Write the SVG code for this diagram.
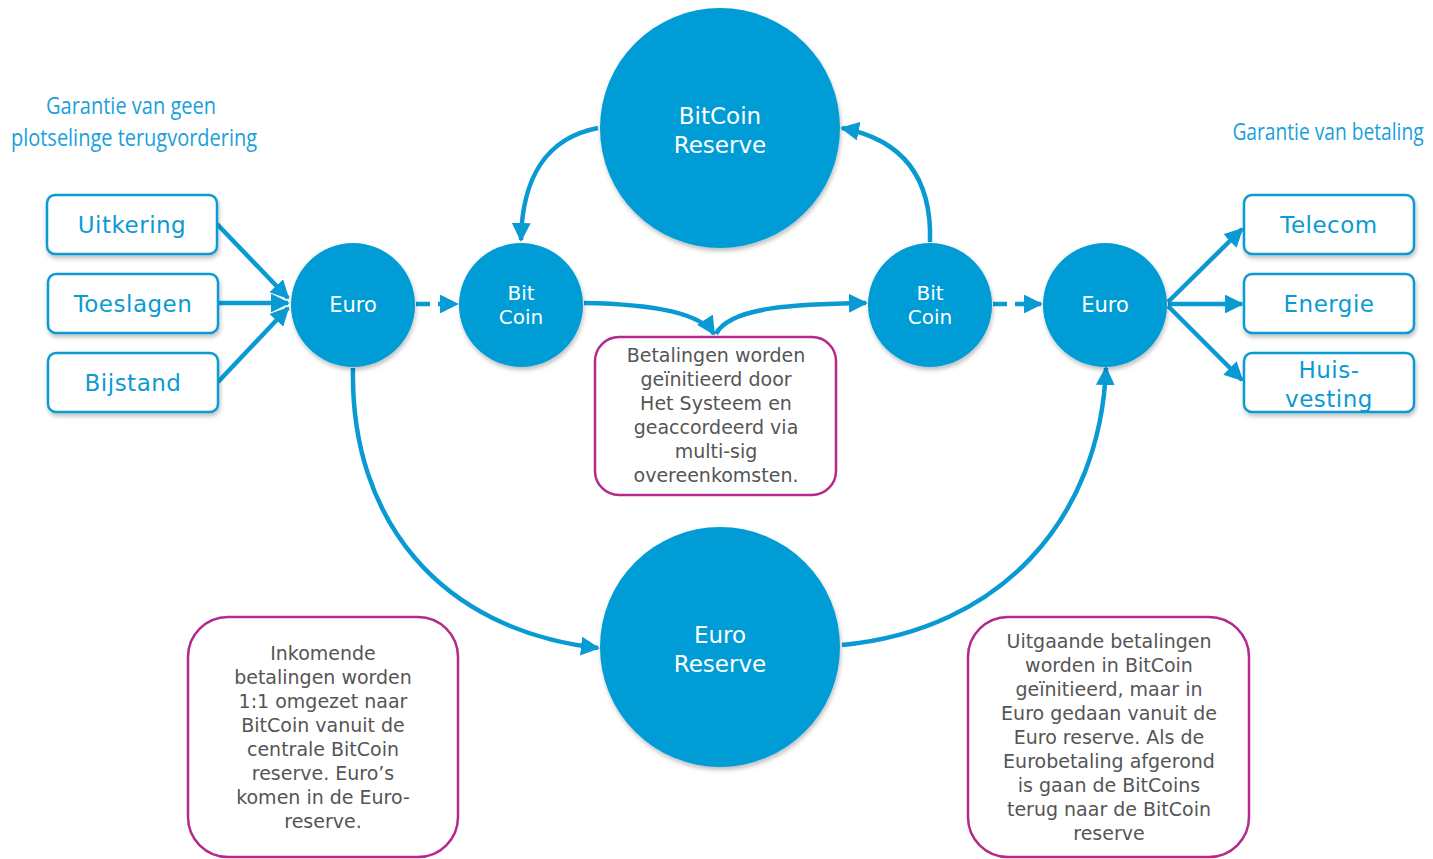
<svg xmlns="http://www.w3.org/2000/svg" width="1433" height="859" viewBox="0 0 1433 859">
<style>
.circ{fill:#029cd5;filter:url(#sh)}
.box{fill:#fff;stroke:#0b9ad2;stroke-width:2.5;filter:url(#sh)}
.note{fill:#fff;stroke:#b5288c;stroke-width:2.5}
.lbl{font-family:"DejaVu Sans",Verdana,sans-serif;font-size:23px;fill:#0b9ad2;text-anchor:middle;letter-spacing:0.5px}
.wt{font-family:"DejaVu Sans",Verdana,sans-serif;fill:#fff;text-anchor:middle}
.nt{font-family:"DejaVu Sans",Verdana,sans-serif;font-size:19px;fill:#555;text-anchor:middle}
.title{font-family:"Open Sans","Liberation Sans",sans-serif;font-size:24px;fill:#1a9fdc;text-anchor:middle}
.con{fill:none;stroke:#0a9ad3;stroke-width:4.5}
.dash{stroke-dasharray:14,8}
</style>
<defs>
<filter id="sh" x="-20%" y="-20%" width="140%" height="140%">
<feDropShadow dx="1" dy="3" stdDeviation="2" flood-color="#000" flood-opacity="0.25"/>
</filter>
<marker id="ah" viewBox="0 0 10 10" refX="9" refY="5" markerWidth="4.2" markerHeight="4.2" orient="auto" markerUnits="strokeWidth">
<path d="M0,0 L10,5 L0,10 z" fill="#0a9ad3"/>
</marker>
</defs>

<g id="title-left">
<text class="title" x="131" y="114" textLength="170" lengthAdjust="spacingAndGlyphs">Garantie van geen</text>
<text class="title" x="134" y="146" textLength="246" lengthAdjust="spacingAndGlyphs">plotselinge terugvordering</text>
</g>
<g id="title-right">
<text class="title" transform="translate(1328,140) scale(0.8,1)" x="0" y="0">Garantie van betaling</text>
</g>

<g id="connectors">
<path class="con" d="M217,224 L288,298" marker-end="url(#ah)"/>
<path class="con" d="M218,303 L288,303" marker-end="url(#ah)"/>
<path class="con" d="M218,382 L288,308" marker-end="url(#ah)"/>
<path class="con dash" d="M416,304 L457,304" marker-end="url(#ah)"/>
<path class="con dash" d="M993,304 L1041,304" marker-end="url(#ah)"/>
<path class="con" d="M1168,302 L1242,229" marker-end="url(#ah)"/>
<path class="con" d="M1168,304 L1242,304" marker-end="url(#ah)"/>
<path class="con" d="M1168,306 L1242,380" marker-end="url(#ah)"/>
<path class="con" d="M598,128 C545,138 522,180 521,240" marker-end="url(#ah)"/>
<path class="con" d="M930,242 C932,180 905,140 842,128" marker-end="url(#ah)"/>
<path class="con" d="M584,303 C650,304 700,312 714,334" marker-end="url(#ah)"/>
<path class="con" d="M716,334 C730,306 800,304 866,303" marker-end="url(#ah)"/>
<path class="con" d="M353,368 C350,520 440,630 598,648" marker-end="url(#ah)"/>
<path class="con" d="M842,645 C1000,630 1100,520 1106,368" marker-end="url(#ah)"/>
</g>

<g id="bitcoin-reserve">
<circle class="circ" cx="720" cy="128" r="120"/>
<text class="wt" font-size="23" x="720" y="124">BitCoin</text>
<text class="wt" font-size="23" x="720" y="153">Reserve</text>
</g>
<g id="euro-reserve">
<circle class="circ" cx="720" cy="647" r="120"/>
<text class="wt" font-size="23" x="720" y="643">Euro</text>
<text class="wt" font-size="23" x="720" y="672">Reserve</text>
</g>
<g id="euro-left">
<circle class="circ" cx="353" cy="305" r="62"/>
<text class="wt" font-size="21" x="353" y="312">Euro</text>
</g>
<g id="bitcoin-left">
<circle class="circ" cx="521" cy="305" r="62"/>
<text class="wt" font-size="20" x="521" y="300">Bit</text>
<text class="wt" font-size="20" x="521" y="324">Coin</text>
</g>
<g id="bitcoin-right">
<circle class="circ" cx="930" cy="305" r="62"/>
<text class="wt" font-size="20" x="930" y="300">Bit</text>
<text class="wt" font-size="20" x="930" y="324">Coin</text>
</g>
<g id="euro-right">
<circle class="circ" cx="1105" cy="305" r="62"/>
<text class="wt" font-size="21" x="1105" y="312">Euro</text>
</g>

<g id="uitkering">
<rect class="box" x="47" y="195" width="170" height="59" rx="8"/>
<text class="lbl" x="132" y="233">Uitkering</text>
</g>
<g id="toeslagen">
<rect class="box" x="48" y="274" width="170" height="59" rx="8"/>
<text class="lbl" x="133" y="312">Toeslagen</text>
</g>
<g id="bijstand">
<rect class="box" x="48" y="353" width="170" height="59" rx="8"/>
<text class="lbl" x="133" y="391">Bijstand</text>
</g>
<g id="telecom">
<rect class="box" x="1244" y="195" width="170" height="59" rx="8"/>
<text class="lbl" x="1329" y="233">Telecom</text>
</g>
<g id="energie">
<rect class="box" x="1244" y="274" width="170" height="59" rx="8"/>
<text class="lbl" x="1329" y="312">Energie</text>
</g>
<g id="huisvesting">
<rect class="box" x="1244" y="353" width="170" height="59" rx="8"/>
<text class="lbl" x="1329" y="378">Huis-</text>
<text class="lbl" x="1329" y="407">vesting</text>
</g>

<g id="note-middle">
<rect class="note" x="595" y="337" width="241" height="158" rx="24"/>
<text class="nt" x="716" y="362">Betalingen worden</text>
<text class="nt" x="716" y="386">geïnitieerd door</text>
<text class="nt" x="716" y="410">Het Systeem en</text>
<text class="nt" x="716" y="434">geaccordeerd via</text>
<text class="nt" x="716" y="458">multi-sig</text>
<text class="nt" x="716" y="482">overeenkomsten.</text>
</g>
<g id="note-left">
<rect class="note" x="188" y="617" width="270" height="240" rx="40"/>
<text class="nt" x="323" y="660">Inkomende</text>
<text class="nt" x="323" y="684">betalingen worden</text>
<text class="nt" x="323" y="708">1:1 omgezet naar</text>
<text class="nt" x="323" y="732">BitCoin vanuit de</text>
<text class="nt" x="323" y="756">centrale BitCoin</text>
<text class="nt" x="323" y="780">reserve. Euro’s</text>
<text class="nt" x="323" y="804">komen in de Euro-</text>
<text class="nt" x="323" y="828">reserve.</text>
</g>
<g id="note-right">
<rect class="note" x="968" y="617" width="281" height="240" rx="40"/>
<text class="nt" x="1109" y="648">Uitgaande betalingen</text>
<text class="nt" x="1109" y="672">worden in BitCoin</text>
<text class="nt" x="1109" y="696">geïnitieerd, maar in</text>
<text class="nt" x="1109" y="720">Euro gedaan vanuit de</text>
<text class="nt" x="1109" y="744">Euro reserve. Als de</text>
<text class="nt" x="1109" y="768">Eurobetaling afgerond</text>
<text class="nt" x="1109" y="792">is gaan de BitCoins</text>
<text class="nt" x="1109" y="816">terug naar de BitCoin</text>
<text class="nt" x="1109" y="840">reserve</text>
</g>
</svg>
